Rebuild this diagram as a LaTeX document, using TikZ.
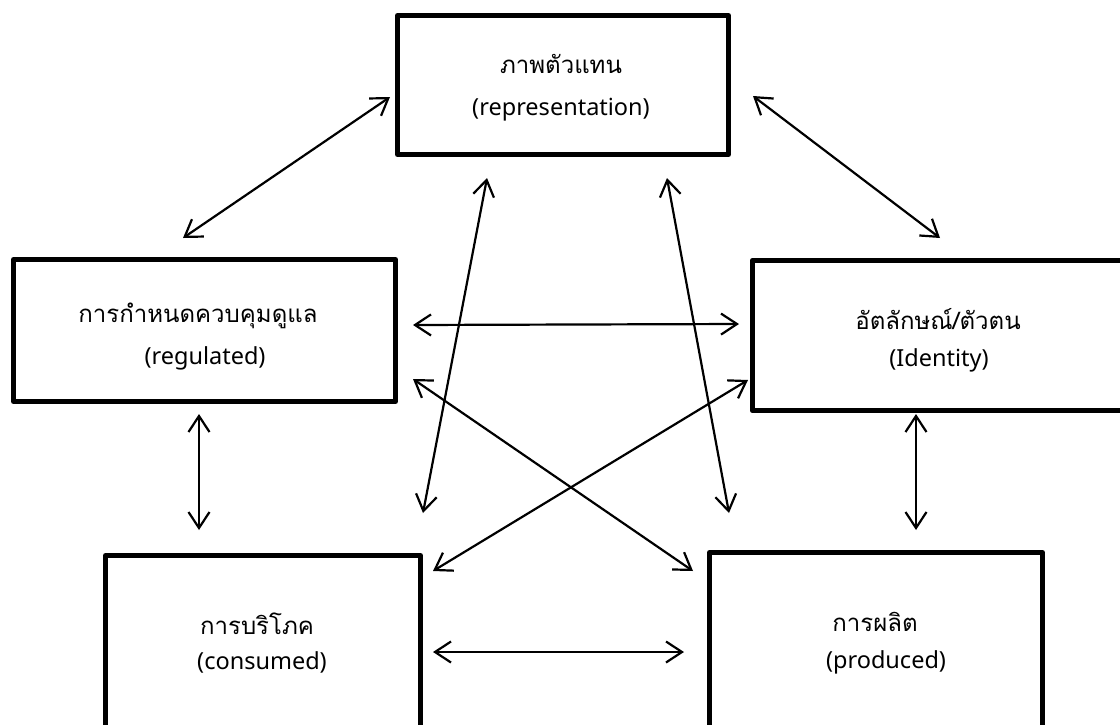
\documentclass[tikz,border=0pt]{standalone}
\usepackage{fontspec}
\setmainfont{Noto Sans}
\newfontfamily\thaifont[Script=Thai]{Loma}
\usetikzlibrary{arrows.meta}
\begin{document}
\begin{tikzpicture}[x=1pt,y=-1pt,
  box/.style={draw, line width=5pt, line join=round, rectangle, inner sep=0pt},
  thai/.style={font=\thaifont\fontsize{24}{27}\selectfont, inner sep=0pt},
  latin/.style={font=\fontsize{23.5}{26}\selectfont, inner sep=0pt},
  link/.style={line width=2.2pt, {Straight Barb[length=16pt,width=21pt]}-{Straight Barb[length=16pt,width=21pt]}}]
\useasboundingbox (0,0) rectangle (1120,724);
\clip (0,0) rectangle (1120,724);

% the five boxes
\node[box, minimum width=331pt, minimum height=139pt] (rep) at (563,85) {};
\node[box, minimum width=382pt, minimum height=142pt] (reg) at (204.5,330.5) {};
\node[box, minimum width=387.5pt, minimum height=150pt] (ide) at (946,335.5) {};
\node[box, minimum width=315pt, minimum height=204.5pt] (con) at (263,657.75) {};
\node[box, minimum width=333pt, minimum height=207.5pt] (pro) at (876,656.25) {};

% labels
\node[thai]  (repT) at (561,64)  {ภาพตัวแทน};
\node[latin] (repL) at (561,110) {(representation)};
\node[thai]  (regT) at (198,316) {การกำหนดควบคุมดูแล};
\node[latin] (regL) at (205,358) {(regulated)};
\node[thai]  (ideT) at (938,319) {อัตลักษณ์/ตัวตน};
\node[latin] (ideL) at (939,360) {(Identity)};
\node[thai]  (conT) at (257,624) {การบริโภค};
\node[latin] (conL) at (262,662) {(consumed)};
\node[thai]  (proT) at (875,622) {การผลิต};
\node[latin] (proL) at (886,662) {(produced)};

% arrow end points
\coordinate (a1) at (390,97);   \coordinate (b1) at (183,238);
\coordinate (a2) at (753,96);   \coordinate (b2) at (940,238);
\coordinate (a3) at (487,178);  \coordinate (b3) at (423,513);
\coordinate (a4) at (667,178);  \coordinate (b4) at (729,513);
\coordinate (a5) at (413,325);  \coordinate (b5) at (739,324);
\coordinate (a6) at (413,379);  \coordinate (b6) at (693,571);
\coordinate (a7) at (748,380);  \coordinate (b7) at (433,571);
\coordinate (a8) at (199,414);  \coordinate (b8) at (199,530);
\coordinate (a9) at (916,414);  \coordinate (b9) at (916,530);
\coordinate (a10) at (433,652); \coordinate (b10) at (684,652);

% two-way links
\foreach \i in {1,...,10} \draw[link] (a\i) -- (b\i);
\end{tikzpicture}
\end{document}
